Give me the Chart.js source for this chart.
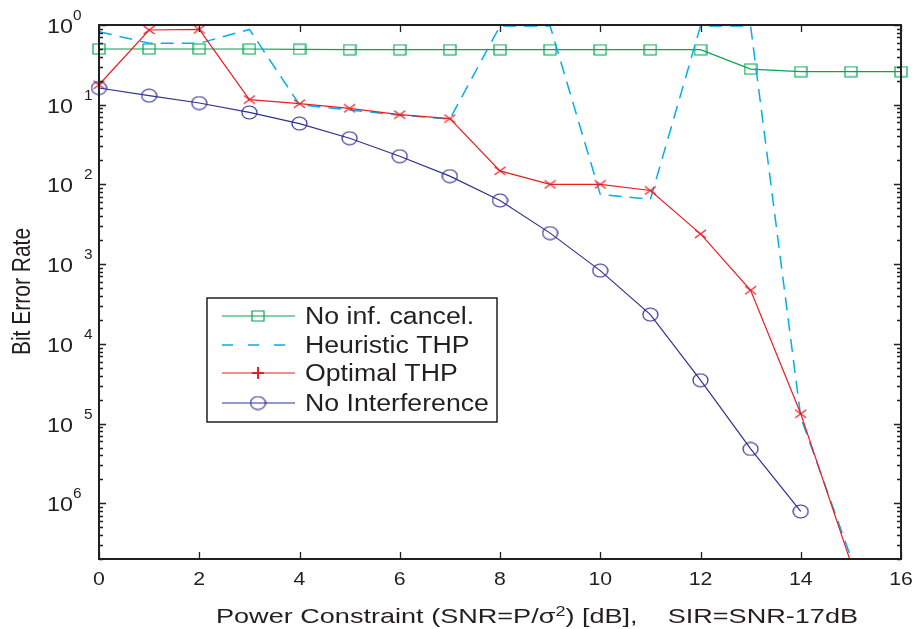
<!DOCTYPE html>
<html>
<head>
<meta charset="utf-8">
<title>Bit Error Rate vs Power Constraint</title>
<script src="https://cdn.jsdelivr.net/npm/chart.js@4.4.1/dist/chart.umd.min.js"></script>
<style>
  body { margin: 0; background: #ffffff; }
  #chart { display: block; }
</style>
</head>
<body>
<canvas id="chart" width="917" height="629"></canvas>
<script>
// Data (SNR in dB on x, BER on a log y axis)
const snrDb = [0, 1, 2, 3, 4, 5, 6, 7, 8, 9, 10, 11, 12, 13, 14, 15, 16];
const noCancel = [0.5, 0.5, 0.5, 0.5, 0.495, 0.49, 0.49, 0.49, 0.49, 0.49, 0.49, 0.49, 0.49, 0.28, 0.26, 0.26, 0.26];
const heuristicThp = [0.825, 0.59, 0.59, 0.88, 0.1, 0.086, 0.074, 0.066, 0.97, 0.97, 0.0075, 0.0065, 0.97, 0.97, 1.2e-5, 2.1e-7, null];
const optimalThp = [0.178, 0.866, 0.88, 0.116, 0.103, 0.09, 0.075, 0.067, 0.0148, 0.01, 0.01, 0.0084, 0.0024, 4.7e-4, 1.33e-5, 1.8e-7, null];
const noInterference = [0.162, 0.13, 0.105, 0.08, 0.058, 0.038, 0.0226, 0.0127, 0.0063, 0.00245, 8.3e-4, 2.33e-4, 3.5e-5, 4.8e-6, 7.9e-7, null, null];

// Axis ticks
const xTickValues = [0, 2, 4, 6, 8, 10, 12, 14, 16];
const yDecades = [0, -1, -2, -3, -4, -5, -6];
const yExpLabels = ['0', '1', '2', '3', '4', '5', '6'];

const seriesNames = ['No inf. cancel.', 'Heuristic THP', 'Optimal THP', 'No Interference'];

// Colours
const green = '#00a651';
const cyan = '#00aeef';
const red = '#ed1c24';
const blue = '#2e3192';
const ink = '#231f20';
const fontFamily = '"Liberation Sans", Arial, Helvetica, sans-serif';

// Small canvases used as point markers (slightly wider than tall, like the figure)
function makeMarker(kind, color, lw) {
    const c = document.createElement('canvas');
    const sizes = { square: [14, 12], circle: [17, 15], cross: [13, 10], plus: [14, 14] };
    const w = sizes[kind][0];
    const h = sizes[kind][1];
    c.width = w;
    c.height = h;
    const g = c.getContext('2d');
    g.strokeStyle = color;
    g.lineWidth = lw || 1.2;
    g.beginPath();
    if (kind === 'square') {
        g.rect(1, 1, w - 2, h - 2);
    } else if (kind === 'circle') {
        g.ellipse(w / 2, h / 2, w / 2 - 1, h / 2 - 1, 0, 0, Math.PI * 2);
    } else if (kind === 'cross') {
        g.moveTo(1, 1); g.lineTo(w - 1, h - 1);
        g.moveTo(w - 1, 1); g.lineTo(1, h - 1);
    } else {
        g.moveTo(w / 2, 1); g.lineTo(w / 2, h - 1);
        g.moveTo(1, h / 2); g.lineTo(w - 1, h / 2);
    }
    g.stroke();
    return c;
}

const squareMark = makeMarker('square', green);
const crossMark = makeMarker('cross', red);
const circleMark = makeMarker('circle', blue);
const plusMark = makeMarker('plus', red, 2);

function toPoints(values) {
    return snrDb.map((x, i) => ({ x: x, y: values[i] }));
}

// Text helper: the figure's lettering is a little stretched horizontally
function drawText(ctx, text, x, y, size, sx, align) {
    ctx.save();
    ctx.font = size + 'px ' + fontFamily;
    ctx.fillStyle = ink;
    ctx.textBaseline = 'alphabetic';
    ctx.translate(x, y);
    ctx.scale(sx, 1);
    ctx.textAlign = align || 'left';
    ctx.fillText(text, 0, 0);
    ctx.restore();
}

function textWidth(ctx, text, size) {
    ctx.save();
    ctx.font = size + 'px ' + fontFamily;
    const w = ctx.measureText(text).width;
    ctx.restore();
    return w;
}

// Axis box, inward ticks, tick labels and axis titles
const axesPlugin = {
    id: 'axesPlugin',
    afterDatasetsDraw(chart) {
        const ctx = chart.ctx;
        const a = chart.chartArea;
        const xs = chart.scales.x;
        const ys = chart.scales.y;

        ctx.save();
        ctx.strokeStyle = ink;
        ctx.lineWidth = 1.3;
        ctx.beginPath();
        xTickValues.forEach(v => {
            const px = Math.round(xs.getPixelForValue(v)) + 0.5;
            ctx.moveTo(px, a.bottom); ctx.lineTo(px, a.bottom - 7);
            ctx.moveTo(px, a.top); ctx.lineTo(px, a.top + 7);
        });
        for (let e = -7; e <= 0; e++) {
            for (let m = 1; m <= 9; m++) {
                const v = m * Math.pow(10, e);
                if (v < ys.min * 0.999 || v > ys.max * 1.001) continue;
                const len = m === 1 ? 7 : 4;
                const py = Math.round(ys.getPixelForValue(v)) + 0.5;
                ctx.moveTo(a.left, py); ctx.lineTo(a.left + len, py);
                ctx.moveTo(a.right, py); ctx.lineTo(a.right - len, py);
            }
        }
        ctx.stroke();

        ctx.lineWidth = 2;
        ctx.strokeRect(a.left, a.top, a.right - a.left, a.bottom - a.top);
        ctx.restore();

        // x tick labels
        xTickValues.forEach(v => {
            drawText(ctx, String(v), xs.getPixelForValue(v), 585, 19, 1.12, 'center');
        });

        // y tick labels: "10" with a raised exponent
        yDecades.forEach((e, i) => {
            const py = ys.getPixelForValue(Math.pow(10, e));
            drawText(ctx, '10', 73, py + 8, 21, 1.11, 'right');
            const tight = (i === 0 || i === yDecades.length - 1);
            drawText(ctx, yExpLabels[i], tight ? 73 : 84, py - 5, 14, 1.1, 'left');
        });

        // x axis title with superscript 2
        const part1 = 'Power Constraint (SNR=P/\u03c3';
        const sup = '2';
        const part2 = ') [dB],    SIR=SNR-17dB';
        const w1 = textWidth(ctx, part1, 21);
        const ws = textWidth(ctx, sup, 14);
        const w2 = textWidth(ctx, part2, 21);
        const sx = (858 - 216) / (w1 + ws + w2);
        drawText(ctx, part1, 216, 623, 21, sx, 'left');
        drawText(ctx, sup, 216 + w1 * sx, 616, 14, sx, 'left');
        drawText(ctx, part2, 216 + (w1 + ws) * sx, 623, 21, sx, 'left');

        // y axis title
        ctx.save();
        ctx.translate(30, 291.5);
        ctx.rotate(-Math.PI / 2);
        ctx.scale(1, 1.2);
        ctx.font = '21px ' + fontFamily;
        ctx.fillStyle = ink;
        ctx.textAlign = 'center';
        ctx.textBaseline = 'alphabetic';
        ctx.fillText('Bit Error Rate', 0, 0);
        ctx.restore();
    }
};

// Boxed legend inside the plot
const legendPlugin = {
    id: 'legendPlugin',
    afterDraw(chart) {
        const ctx = chart.ctx;
        const box = { left: 207, top: 298, right: 497, bottom: 422 };
        const rows = [316, 345, 373, 403];
        const samples = [
            { color: green, mark: squareMark, dash: [] },
            { color: cyan, mark: null, dash: [11, 15] },
            { color: red, mark: plusMark, dash: [] },
            { color: blue, mark: circleMark, dash: [] }
        ];

        ctx.save();
        ctx.fillStyle = '#ffffff';
        ctx.fillRect(box.left, box.top, box.right - box.left, box.bottom - box.top);
        ctx.strokeStyle = ink;
        ctx.lineWidth = 1.5;
        ctx.strokeRect(box.left, box.top, box.right - box.left, box.bottom - box.top);

        rows.forEach((y, i) => {
            const s = samples[i];
            ctx.strokeStyle = s.color;
            ctx.lineWidth = i === 1 ? 1.5 : 1.2;
            ctx.setLineDash(s.dash);
            ctx.beginPath();
            ctx.moveTo(222, y);
            ctx.lineTo(295, y);
            ctx.stroke();
            ctx.setLineDash([]);
            if (s.mark) {
                ctx.drawImage(s.mark, 258 - s.mark.width / 2, y - s.mark.height / 2);
            }
            drawText(ctx, seriesNames[i], 305, y + 8.3, 23, 1.16, 'left');
        });
        ctx.restore();
    }
};

const clipArea = { left: 12, right: 12, top: 2, bottom: 0 };

const ctx = document.getElementById('chart').getContext('2d');
const berChart = new Chart(ctx, {
    type: 'line',
    data: {
        datasets: [
            {
                label: seriesNames[0],
                data: toPoints(noCancel),
                borderColor: green,
                borderWidth: 1.2,
                pointStyle: squareMark,
                pointRadius: 4,
                pointHoverRadius: 4,
                order: 3,
                clip: clipArea
            },
            {
                label: seriesNames[1],
                data: toPoints(heuristicThp),
                borderColor: cyan,
                borderWidth: 1.5,
                borderDash: [13, 8],
                pointRadius: 0,
                pointHoverRadius: 0,
                order: 2,
                clip: clipArea
            },
            {
                label: seriesNames[2],
                data: toPoints(optimalThp),
                borderColor: red,
                borderWidth: 1.2,
                pointStyle: crossMark,
                pointRadius: 4,
                pointHoverRadius: 4,
                order: 1,
                clip: clipArea
            },
            {
                label: seriesNames[3],
                data: toPoints(noInterference),
                borderColor: blue,
                borderWidth: 1.2,
                pointStyle: circleMark,
                pointRadius: 4,
                pointHoverRadius: 4,
                order: 0,
                clip: clipArea
            }
        ]
    },
    options: {
        responsive: false,
        devicePixelRatio: 1,
        animation: false,
        events: [],
        spanGaps: false,
        elements: { line: { tension: 0, fill: false } },
        layout: { padding: { left: 99, right: 16, top: 25, bottom: 70 } },
        scales: {
            x: { type: 'linear', min: 0, max: 16, display: false },
            y: { type: 'logarithmic', min: 2e-7, max: 1, display: false }
        },
        plugins: {
            legend: { display: false },
            tooltip: { enabled: false },
            title: { display: false }
        }
    },
    plugins: [axesPlugin, legendPlugin]
});
</script>
</body>
</html>
